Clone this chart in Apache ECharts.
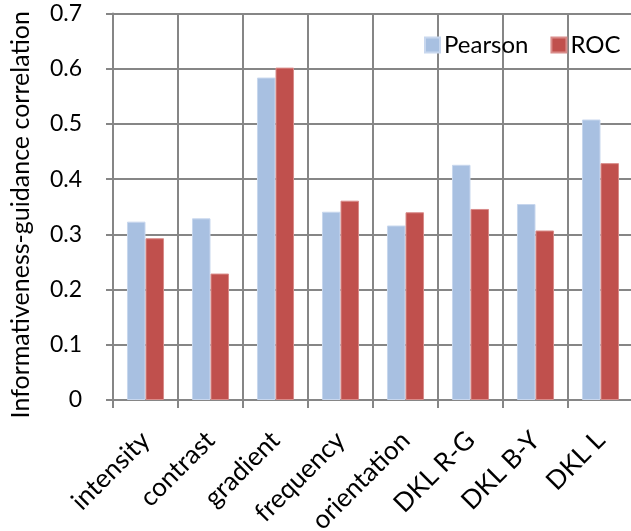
<!DOCTYPE html>
<html><head><meta charset="utf-8">
<script src="https://cdn.jsdelivr.net/npm/echarts@6/dist/echarts.min.js"></script>
<style>html,body{margin:0;padding:0;background:#fff}#c{width:631px;height:531px}</style>
</head><body><div id="c"></div>
<script>
const categories = ["intensity","contrast","gradient","frequency","orientation","DKL R-G","DKL B-Y","DKL L"];
const pearson = [0.323, 0.329, 0.584, 0.341, 0.316, 0.426, 0.355, 0.508];
const roc = [0.293, 0.229, 0.602, 0.361, 0.340, 0.346, 0.307, 0.429];
const yTicks = [0, 0.1, 0.2, 0.3, 0.4, 0.5, 0.6, 0.7];

const FONT = "Lato, 'Open Sans', sans-serif";
const chart = echarts.init(document.getElementById('c'), null, {renderer:'canvas'});
chart.setOption({
  animation:false,
  textStyle:{fontFamily:FONT},
  grid:{left:113, right:-2, top:13.5, bottom:131, containLabel:false, outerBoundsMode:'none'},
  legend:{
    left:419, top:28, itemWidth:15, itemHeight:15, itemGap:22,
    icon:'rect',
    textStyle:{fontFamily:FONT, fontSize:24, color:'#000', padding:[0,0,0,-1]},
    data:['Pearson','ROC']
  },
  xAxis:{
    type:'category', data:categories,
    axisLine:{lineStyle:{color:'#868686', width:2}},
    axisTick:{show:true, length:8, lineStyle:{color:'#868686', width:2}},
    splitLine:{show:true, lineStyle:{color:'#868686', width:2}},
    axisLabel:{rotate:45, margin:36, fontFamily:FONT, fontSize:26, color:'#000', interval:0}
  },
  yAxis:{
    type:'value', min:0, max:0.7, interval:0.1,
    name:'Informativeness-guidance correlation',
    nameLocation:'middle', nameGap:80,
    nameTextStyle:{fontFamily:FONT, fontSize:25, color:'#000', padding:[0,16,0,0]},
    axisLine:{show:true, lineStyle:{color:'#868686', width:2}},
    axisTick:{show:true, length:7, lineStyle:{color:'#868686', width:2}},
    splitLine:{show:true, lineStyle:{color:'#868686', width:2}},
    axisLabel:{margin:31, fontFamily:FONT, fontSize:23, color:'#000',
      formatter:function(v){ const t = yTicks.find(x=>Math.abs(x-v)<1e-9); return t===undefined? '' : (t===0?'0':String(t)); }}
  },
  series:[
    {name:'Pearson', type:'bar', data:pearson, barGap:'0%', barCategoryGap:'43%',
     itemStyle:{color:'#a8c0e1', borderColor:'#c8d7ee', borderWidth:1}},
    {name:'ROC', type:'bar', data:roc, barGap:'0%', barCategoryGap:'43%',
     itemStyle:{color:'#c0504d', borderColor:'#d98c8a', borderWidth:1}}
  ]
});
</script></body></html>
